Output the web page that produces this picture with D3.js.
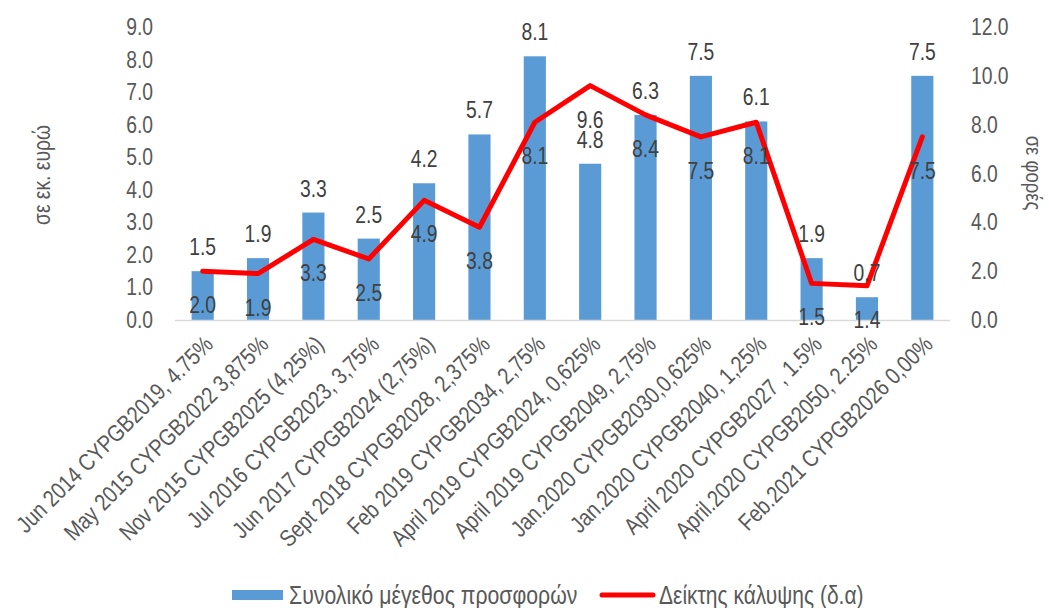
<!DOCTYPE html>
<html>
<head>
<meta charset="utf-8">
<script src="https://cdn.jsdelivr.net/npm/d3@7"></script>
<style>
  html, body { margin: 0; padding: 0; background: #fff; }
  svg { display: block; font-family: "Liberation Sans", Arial, sans-serif; }
</style>
</head>
<body>
<svg id="chart" width="1049" height="608"></svg>
<script>
// Government bond issues: total offer size (left axis) and cover ratio (right axis)
const categories = [
  "Jun 2014 CYPGB2019, 4.75%",
  "May 2015 CYPGB2022 3,875%",
  "Nov 2015 CYPGB2025 (4,25%)",
  "Jul 2016 CYPGB2023, 3,75%",
  "Jun 2017 CYPGB2024 (2,75%)",
  "Sept 2018 CYPGB2028, 2,375%",
  "Feb 2019 CYPGB2034, 2,75%",
  "April 2019 CYPGB2024, 0,625%",
  "April 2019 CYPGB2049, 2,75%",
  "Jan.2020 CYPGB2030,0,625%",
  "Jan.2020 CYPGB2040, 1,25%",
  "April 2020 CYPGB2027 , 1.5%",
  "April.2020 CYPGB2050, 2.25%",
  "Feb.2021 CYPGB2026 0,00%"
];
const offerSize = [1.5, 1.9, 3.3, 2.5, 4.2, 5.7, 8.1, 4.8, 6.3, 7.5, 6.1, 1.9, 0.7, 7.5];
const coverRatio = [2.0, 1.9, 3.3, 2.5, 4.9, 3.8, 8.1, 9.6, 8.4, 7.5, 8.1, 1.5, 1.4, 7.5];
const leftTicks = [0, 1, 2, 3, 4, 5, 6, 7, 8, 9];
const rightTicks = [0, 2, 4, 6, 8, 10, 12];
const seriesNames = ["Συνολικό μέγεθος προσφορών", "Δείκτης κάλυψης (δ.α)"];
const axisTitles = ["σε εκ. ευρώ", "σε φορές"];

const textColor = "#595959";
const labelColor = "#404040";
const barColor = "#5b9bd5";
const lineColor = "#ff0000";
const narrow = 0.84;          // horizontal condensing of the tall, narrow type
const fmt = d3.format(".1f");

const svg = d3.select("#chart");
const plot = { left: 175, right: 950, top: 27, bottom: 320 };

const x = d3.scaleBand()
  .domain(categories)
  .range([plot.left, plot.right])
  .paddingInner(0.6)
  .paddingOuter(0.3);
const yL = d3.scaleLinear().domain([0, 9]).range([plot.bottom, plot.top]);
const yR = d3.scaleLinear().domain([0, 12]).range([plot.bottom, plot.top]);
const cx = d => x(d) + x.bandwidth() / 2;

// condensed text at (px, py), optionally rotated
function label(g, px, py, str, opts) {
  const o = Object.assign({ size: 23, anchor: "middle", rotate: 0, fill: textColor }, opts || {});
  return g.append("text")
    .attr("transform", `translate(${px},${py}) rotate(${o.rotate}) scale(${narrow},1)`)
    .attr("text-anchor", o.anchor)
    .attr("dy", "0.35em")
    .attr("fill", o.fill)
    .attr("font-size", o.size)
    .text(str);
}

// axis tick labels
const axes = svg.append("g");
leftTicks.forEach(t => label(axes, plot.left - 22, yL(t), fmt(t), { anchor: "end" }));
rightTicks.forEach(t => label(axes, plot.right + 21, yR(t), fmt(t), { anchor: "start" }));

// axis titles
label(axes, 42, 175, axisTitles[0], { rotate: -90 });
label(axes, 1034, 173, axisTitles[1], { rotate: 90, size: 22 });

// bars
svg.append("g").selectAll("rect")
  .data(offerSize)
  .join("rect")
  .attr("x", (d, i) => x(categories[i]))
  .attr("y", d => yL(d))
  .attr("width", x.bandwidth())
  .attr("height", d => yL(0) - yL(d))
  .attr("fill", barColor);

// baseline
svg.append("line")
  .attr("x1", plot.left).attr("x2", plot.right)
  .attr("y1", plot.bottom + 0.5).attr("y2", plot.bottom + 0.5)
  .attr("stroke", "#d9d9d9").attr("stroke-width", 1.5);

// category labels
const cats = svg.append("g");
categories.forEach(c => label(cats, cx(c) + 6, plot.bottom + 20, c, { anchor: "end", rotate: -45, size: 23.5 }));

// cover ratio line
const line = d3.line()
  .x((d, i) => cx(categories[i]))
  .y(d => yR(d));
svg.append("path")
  .datum(coverRatio)
  .attr("d", line)
  .attr("fill", "none")
  .attr("stroke", lineColor)
  .attr("stroke-width", 5)
  .attr("stroke-linejoin", "round")
  .attr("stroke-linecap", "round");

// value labels: bars above, line below
const vals = svg.append("g");
offerSize.forEach((d, i) => label(vals, cx(categories[i]), yL(d) - 24, fmt(d), { fill: labelColor }));
coverRatio.forEach((d, i) => label(vals, cx(categories[i]), yR(d) + 34, fmt(d), { fill: labelColor }));

// legend
const legend = svg.append("g");
legend.append("rect")
  .attr("x", 232).attr("y", 590).attr("width", 51).attr("height", 10)
  .attr("fill", barColor);
label(legend, 289, 595, seriesNames[0], { anchor: "start", size: 25.3 });
legend.append("line")
  .attr("x1", 602).attr("x2", 653).attr("y1", 595).attr("y2", 595)
  .attr("stroke", lineColor).attr("stroke-width", 5).attr("stroke-linecap", "round");
label(legend, 659, 595, seriesNames[1], { anchor: "start", size: 25 });
</script>
</body>
</html>
